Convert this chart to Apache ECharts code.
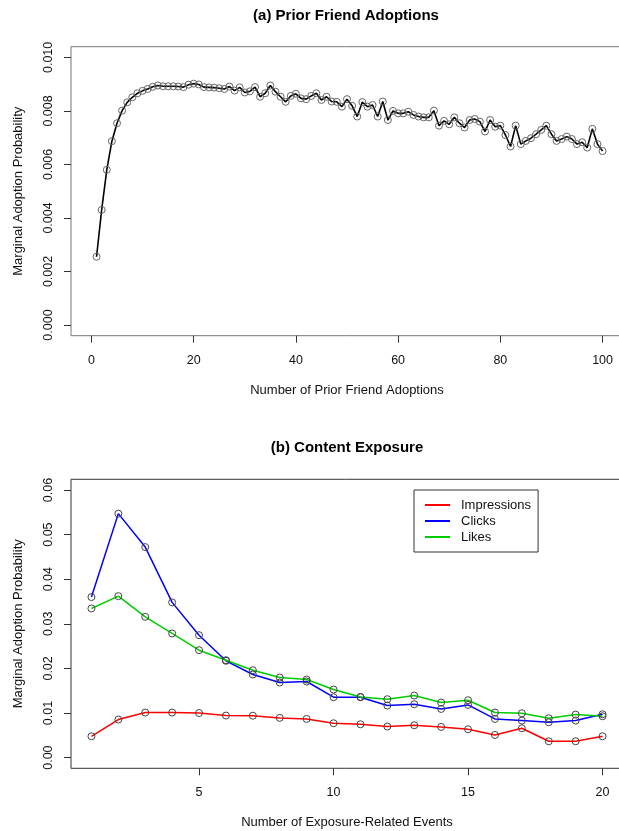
<!DOCTYPE html>
<html>
<head>
<meta charset="utf-8">
<title>Marginal Adoption Probability</title>
<script src="https://cdn.jsdelivr.net/npm/echarts@6/dist/echarts.min.js"></script>
<style>
  html, body { margin: 0; padding: 0; background: #fff; }
  #chart { width: 619px; height: 831px; }
</style>
</head>
<body>
<div id="chart"></div>
<script>
// (a) prior friend adoptions, 1..100
const friendCounts = Array.from({ length: 100 }, (_, i) => i + 1);
const friendProb = [
  0.00255, 0.00430, 0.00580, 0.00687, 0.00754, 0.00801, 0.00832, 0.00851, 0.00866, 0.00875,
  0.00882, 0.00890, 0.00895, 0.00892, 0.00892, 0.00892, 0.00891, 0.00889, 0.00898, 0.00902,
  0.00899, 0.00889, 0.00888, 0.00887, 0.00885, 0.00882, 0.00891, 0.00876, 0.00888, 0.00869,
  0.00873, 0.00889, 0.00853, 0.00866, 0.00895, 0.00872, 0.00853, 0.00834, 0.00856, 0.00864,
  0.00847, 0.00844, 0.00856, 0.00866, 0.00841, 0.00853, 0.00835, 0.00834, 0.00816, 0.00844,
  0.00819, 0.00779, 0.00833, 0.00816, 0.00822, 0.00779, 0.00835, 0.00766, 0.00800, 0.00791,
  0.00791, 0.00797, 0.00785, 0.00779, 0.00776, 0.00776, 0.00801, 0.00745, 0.00763, 0.00750,
  0.00776, 0.00754, 0.00738, 0.00766, 0.00770, 0.00760, 0.00723, 0.00766, 0.00741, 0.00745,
  0.00710, 0.00667, 0.00745, 0.00676, 0.00688, 0.00698, 0.00713, 0.00729, 0.00745, 0.00713,
  0.00688, 0.00695, 0.00704, 0.00695, 0.00676, 0.00683, 0.00663, 0.00733, 0.00676, 0.00650
];
const friendXTicks = [0, 20, 40, 60, 80, 100];
const friendYTicks = [0, 0.002, 0.004, 0.006, 0.008, 0.010];

// (b) content exposure, 1..20
const events = Array.from({ length: 20 }, (_, i) => i + 1);
const impressions = [
  0.00478, 0.00853, 0.01010, 0.01010, 0.01000, 0.00943, 0.00940, 0.00890, 0.00867, 0.00770,
  0.00747, 0.00696, 0.00725, 0.00688, 0.00635, 0.00508, 0.00658, 0.00366, 0.00366, 0.00478
];
const clicks = [
  0.0360, 0.0547, 0.0472, 0.0348, 0.02745, 0.0217, 0.01863, 0.01683, 0.01706, 0.01354,
  0.01354, 0.01167, 0.01196, 0.01091, 0.01181, 0.00867, 0.00830, 0.00792, 0.00830, 0.00972
];
const likes = [
  0.03344, 0.0362, 0.03157, 0.02783, 0.02408, 0.02184, 0.0196, 0.01795, 0.0175, 0.01526,
  0.0136, 0.01309, 0.01391, 0.01234, 0.01286, 0.0101, 0.00994, 0.00882, 0.00964, 0.00927
];
const eventXTicks = [5, 10, 15, 20];
const eventYTicks = [0, 0.01, 0.02, 0.03, 0.04, 0.05, 0.06];

const FONT = '"Liberation Sans", Arial, Helvetica, sans-serif';
const TEXT = '#111';

function pairs(xs, ys) {
  return xs.map((x, i) => [x, ys[i]]);
}

// R style axes: ticks outward, labels at pretty values, padded range
function xAxisR(gridIndex, min, max, ticks, name) {
  return {
    type: 'value', gridIndex, min, max, position: 'bottom',
    splitLine: { show: false },
    axisLine: { show: false, onZero: false },
    axisTick: { show: true, inside: false, length: 7, customValues: ticks, lineStyle: { color: '#333' } },
    axisLabel: { customValues: ticks, margin: 18, color: TEXT, fontFamily: FONT, fontSize: 12.5 },
    name, nameLocation: 'middle', nameGap: 48,
    nameTextStyle: { color: TEXT, fontFamily: FONT, fontSize: 13 }
  };
}

function yAxisR(gridIndex, min, max, ticks, digits) {
  return {
    type: 'value', gridIndex, min, max, position: 'left',
    splitLine: { show: false },
    axisLine: { show: false, onZero: false },
    axisTick: { show: true, inside: false, length: 7, customValues: ticks, lineStyle: { color: '#333' } },
    axisLabel: {
      customValues: ticks, rotate: 90, margin: 16, color: TEXT, fontFamily: FONT, fontSize: 12.5,
      formatter: (v) => v.toFixed(digits)
    },
    name: 'Marginal Adoption Probability', nameLocation: 'middle', nameGap: 46, nameRotate: 90,
    nameTextStyle: { color: TEXT, fontFamily: FONT, fontSize: 13 }
  };
}

const circle = (border) => ({
  symbol: 'circle',
  symbolSize: 7,
  showSymbol: true,
  itemStyle: { color: 'rgba(0,0,0,0)', borderColor: border, borderWidth: 1 }
});

const chart = echarts.init(document.getElementById('chart'), null, { renderer: 'canvas' });

chart.setOption({
  animation: false,
  backgroundColor: '#fff',
  textStyle: { fontFamily: FONT },
  graphic: [
    {
      type: 'text', x: 346, y: 16,
      style: { text: '(a) Prior Friend Adoptions', fill: '#000', font: 'bold 15px ' + FONT, align: 'center', verticalAlign: 'middle' }
    },
    {
      type: 'text', x: 347, y: 448,
      style: { text: '(b) Content Exposure', fill: '#000', font: 'bold 15px ' + FONT, align: 'center', verticalAlign: 'middle' }
    }
  ],
  grid: [
    { left: 71, right: -4, top: 46.7, height: 289, show: true, borderColor: '#777', borderWidth: 1, containLabel: false, outerBoundsMode: 'none' },
    { left: 71, right: -4, top: 479.3, height: 289, show: true, borderColor: '#333', borderWidth: 1, containLabel: false, outerBoundsMode: 'none' }
  ],
  xAxis: [
    xAxisR(0, -4, 104, friendXTicks, 'Number of Prior Friend Adoptions'),
    xAxisR(1, 0.24, 20.76, eventXTicks, 'Number of Exposure-Related Events')
  ],
  yAxis: [
    yAxisR(0, -0.0004, 0.0104, friendYTicks, 3),
    yAxisR(1, -0.0024, 0.0624, eventYTicks, 2)
  ],
  legend: {
    orient: 'vertical',
    left: 414, top: 490,
    padding: [8, 7, 8, 11],
    borderColor: '#333', borderWidth: 1, borderRadius: 0,
    itemWidth: 25, itemHeight: 2, itemGap: 2,
    icon: 'rect',
    selectedMode: false,
    textStyle: { color: TEXT, fontFamily: FONT, fontSize: 13, lineHeight: 14, padding: [0, 0, 0, 6] },
    data: [
      { name: 'Impressions', itemStyle: { color: '#ff0000', borderWidth: 0 } },
      { name: 'Clicks', itemStyle: { color: '#0000ff', borderWidth: 0 } },
      { name: 'Likes', itemStyle: { color: '#00cd00', borderWidth: 0 } }
    ]
  },
  series: [
    {
      name: 'Prior Friend Adoptions', type: 'line', xAxisIndex: 0, yAxisIndex: 0,
      data: pairs(friendCounts, friendProb),
      lineStyle: { color: '#000', width: 1.6 },
      ...circle('#666'),
      emphasis: { disabled: true }
    },
    {
      name: 'Impressions', type: 'line', xAxisIndex: 1, yAxisIndex: 1,
      data: pairs(events, impressions),
      lineStyle: { color: '#ff0000', width: 1.5 },
      ...circle('#444'),
      emphasis: { disabled: true }
    },
    {
      name: 'Clicks', type: 'line', xAxisIndex: 1, yAxisIndex: 1,
      data: pairs(events, clicks),
      lineStyle: { color: '#0000ff', width: 1.5 },
      ...circle('#444'),
      emphasis: { disabled: true }
    },
    {
      name: 'Likes', type: 'line', xAxisIndex: 1, yAxisIndex: 1,
      data: pairs(events, likes),
      lineStyle: { color: '#00cd00', width: 1.5 },
      ...circle('#444'),
      emphasis: { disabled: true }
    }
  ]
});
</script>
</body>
</html>
